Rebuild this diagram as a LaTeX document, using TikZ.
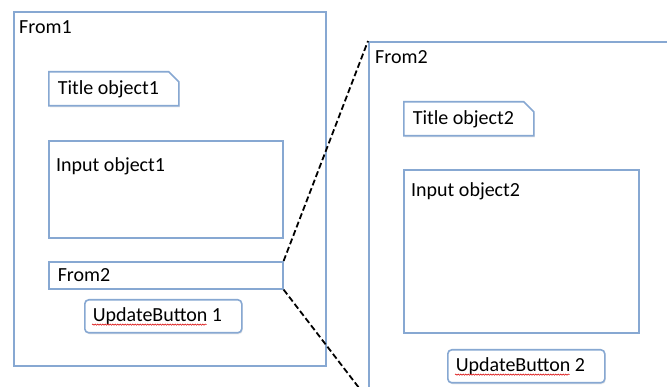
\documentclass[tikz,border=0pt]{standalone}
\usepackage{fontspec}
\setmainfont{Carlito}
\usetikzlibrary{shapes.misc,shadows,decorations.pathmorphing}
\definecolor{frameblue}{RGB}{135,168,210}
\newlength\wavelen

\begin{document}
\settowidth{\wavelen}{\fontsize{20}{24}\selectfont UpdateButton}
\begin{tikzpicture}[x=1pt, y=-1pt, font=\fontsize{20}{24}\selectfont,
  frm/.style={draw=frameblue, line width=1.6pt, fill=white, anchor=north west, inner sep=0pt,
    drop shadow={opacity=0.15, shadow xshift=1pt, shadow yshift=-1.5pt}},
  tag/.style={anchor=north west, inner sep=0pt},
  snipbox/.style={frm, chamfered rectangle, chamfered rectangle corners=north east,
    chamfered rectangle xsep=5pt, chamfered rectangle ysep=5pt, inner xsep=4pt, align=flush left},
  field/.style={frm, inner xsep=9pt, align=flush left},
  btn/.style={frm, rounded corners=4pt, inner xsep=8pt, align=flush left},
  spell/.style={red!85!black, line width=0.5pt, decorate,
    decoration={snake, amplitude=0.7pt, segment length=2.5pt}},
  link/.style={black, line width=1.8pt, dash pattern=on 6pt off 3pt}]
\useasboundingbox (0,0) rectangle (667,387);
\clip (0,0) rectangle (667,387);
%Form 1
\node[frm, minimum width=312pt, minimum height=354pt,
  label={[tag, xshift=6pt, yshift=-9pt]north west:From1}] (form1) at (13,11) {};
\node[snipbox, text width=112pt, minimum height=34pt] (title1) at (48,71) {Title object1};
\node[frm, minimum width=234pt, minimum height=97pt,
  label={[tag, xshift=8pt, yshift=-17pt]north west:Input object1}] (input1) at (48,140) {};
\node[field, text width=216pt, minimum height=27pt] (from2) at (48,261) {From2};
\node[btn, text width=141pt, minimum height=33pt] (update1) at (84,299) {UpdateButton 1};
\draw[spell] ([xshift=8pt, yshift=-3pt]update1.base west) -- ++(\wavelen,0);
%Form 2
\node[frm, minimum width=332pt, minimum height=357pt,
  label={[tag, xshift=7pt, yshift=-9pt]north west:From2}] (form2) at (368,41) {};
\node[snipbox, text width=112pt, minimum height=34pt] (title2) at (403,101) {Title object2};
\node[frm, minimum width=235pt, minimum height=163pt,
  label={[tag, xshift=8pt, yshift=-13pt]north west:Input object2}] (input2) at (403,169) {};
\node[btn, text width=141pt, minimum height=33pt] (update2) at (447,349) {UpdateButton 2};
\draw[spell] ([xshift=8pt, yshift=-3pt]update2.base west) -- ++(\wavelen,0);
%Zoom lines
\draw[link] (from2.north east) -- (form2.north west);
\draw[link] (from2.south east) -- (form2.south west);
\end{tikzpicture}
\end{document}
